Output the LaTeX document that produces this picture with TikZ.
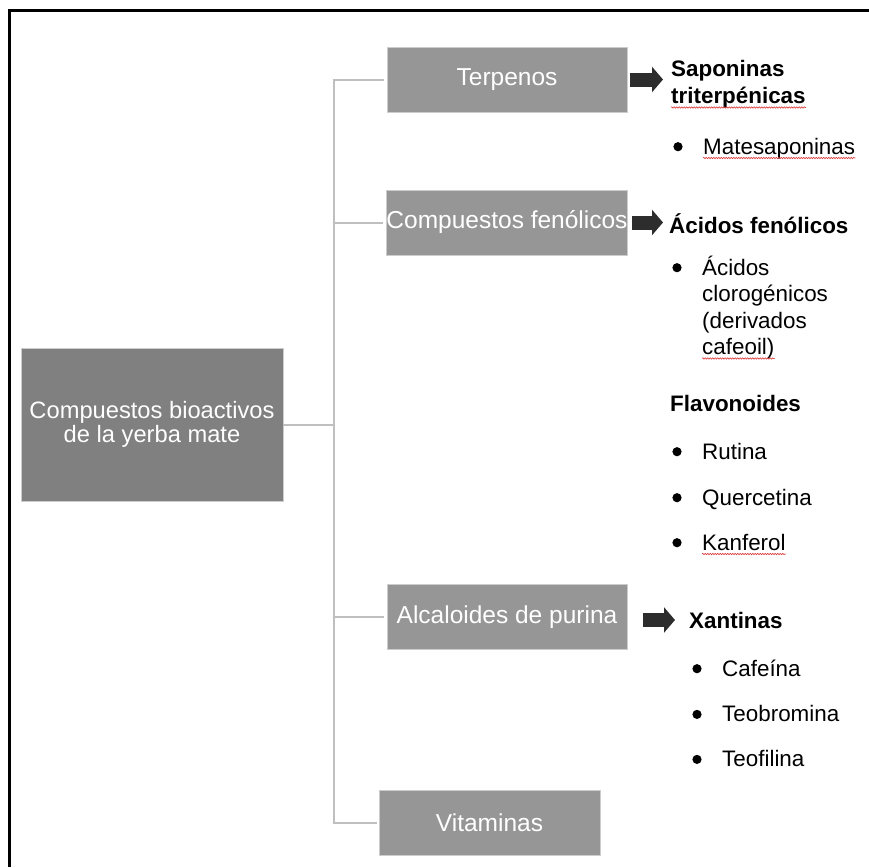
\documentclass[tikz,border=0pt]{standalone}
\usepackage{fontspec}
\setmainfont{Liberation Sans}
\usetikzlibrary{arrows.meta,positioning,decorations.pathmorphing}

\definecolor{rootgray}{RGB}{128,128,128}
\definecolor{boxgray}{RGB}{150,150,150}
\definecolor{linkgray}{RGB}{191,191,191}
\definecolor{arrowdark}{RGB}{45,45,45}
\definecolor{spellred}{RGB}{220,60,60}

\tikzset{
  catbox/.style={rectangle, fill=boxgray, draw=white!80!black, line width=0.6pt, text=white,
    minimum width=240pt, minimum height=65pt, inner sep=0pt, font=\fontsize{24.5}{24.5}\selectfont},
  link/.style={draw=linkgray, line width=2pt},
  bigarrow/.style={draw=arrowdark, line width=14pt, -{Triangle[length=11pt,width=25pt]}},
  listtxt/.style={anchor=base west, inner sep=0pt, font=\fontsize{22.4}{26.5}\selectfont},
  headtxt/.style={listtxt, font=\fontsize{22.4}{26.5}\selectfont\bfseries},
  squiggle/.style={draw=spellred, line width=0.6pt, decorate,
    decoration={snake, amplitude=0.7pt, segment length=2.5pt}}
}

\begin{document}
\begin{tikzpicture}[x=1pt,y=-1pt]
  \useasboundingbox (0,0) rectangle (869,867);
  % outer frame (only left and top edges show)
  \draw[line width=2.8pt] (9.5,867) -- (9.5,10.5) -- (869,10.5);

  % boxes
  \node[catbox, fill=rootgray, minimum width=262pt, minimum height=153pt, align=center,
    font=\fontsize{23.7}{24.5}\selectfont] (root) at (152,424.5) {Compuestos bioactivos\\de la yerba mate};
  \node[catbox] (terp) at (507,79.5) {Terpenos};
  \node[catbox] (fen) at (507,222.5) {Compuestos fenólicos};
  \node[catbox] (alc) at (507,617) {Alcaloides de purina};
  \node[catbox, minimum width=221pt] (vit) at (489.5,822.5) {Vitaminas};

  % tree lines
  \coordinate (spine) at (334,424.5);
  \draw[link] (root.east) -- (spine);
  \draw[link] ([xshift=-3pt]terp.west) -- (spine |- terp.west) -- (spine |- vit.west) -- ([xshift=-2pt]vit.west);
  \foreach \b in {fen,alc}
    \draw[link] (spine |- \b.west) -- ([xshift=-3pt]\b.west);

  % headings
  \node[headtxt] (sap1) at (671,77) {Saponinas};
  \node[headtxt] (sap2) at (671,103.5) {triterpénicas};
  \node[headtxt] (acf) at (669,233) {Ácidos fenólicos};
  \node[headtxt] (flav) at (670,411.5) {Flavonoides};
  \node[headtxt] (xan) at (689,628) {Xantinas};

  % block arrows
  \draw[bigarrow, shorten <=3pt, shorten >=8pt] (terp.east) -- (terp.east -| sap1.west);
  \draw[bigarrow, shorten <=4pt, shorten >=6pt] (fen.east) -- (fen.east -| acf.west);
  \draw[bigarrow, shorten <=16pt, shorten >=14pt] (alc.east |- xan.west) -- (xan.west);

  % bullet items
  \node[listtxt] (mate) at (703,154) {Matesaponinas};
  \node[listtxt] (clo1) at (702,275) {Ácidos};
  \node[listtxt] (clo2) at (702,301.5) {clorogénicos};
  \node[listtxt] (clo3) at (702,328) {(derivados};
  \node[listtxt] (clo4) at (702,354.5) {cafeoil)};
  \foreach \n in {mate,clo1}
    \fill ([xshift=-25pt,yshift=7.3pt]\n.base west) circle (4.6pt);
  \foreach \n/\t/\y in {rut/Rutina/459, quer/Quercetina/505, kan/Kanferol/550}{
    \node[listtxt] (\n) at (702,\y) {\t};
    \fill ([xshift=-25pt,yshift=7.3pt]\n.base west) circle (4.6pt);
  }
  \foreach \n/\t/\y in {caf/Cafeína/676, teob/Teobromina/721.7, teof/Teofilina/766.7}{
    \node[listtxt] (\n) at (722,\y) {\t};
    \fill ([xshift=-25pt,yshift=7.3pt]\n.base west) circle (4.6pt);
  }

  % spell-check underlines
  \foreach \n in {sap2,mate,clo4,kan}
    \draw[squiggle] ([yshift=-4pt]\n.base west) -- ([yshift=-4pt]\n.base east);
\end{tikzpicture}
\end{document}
